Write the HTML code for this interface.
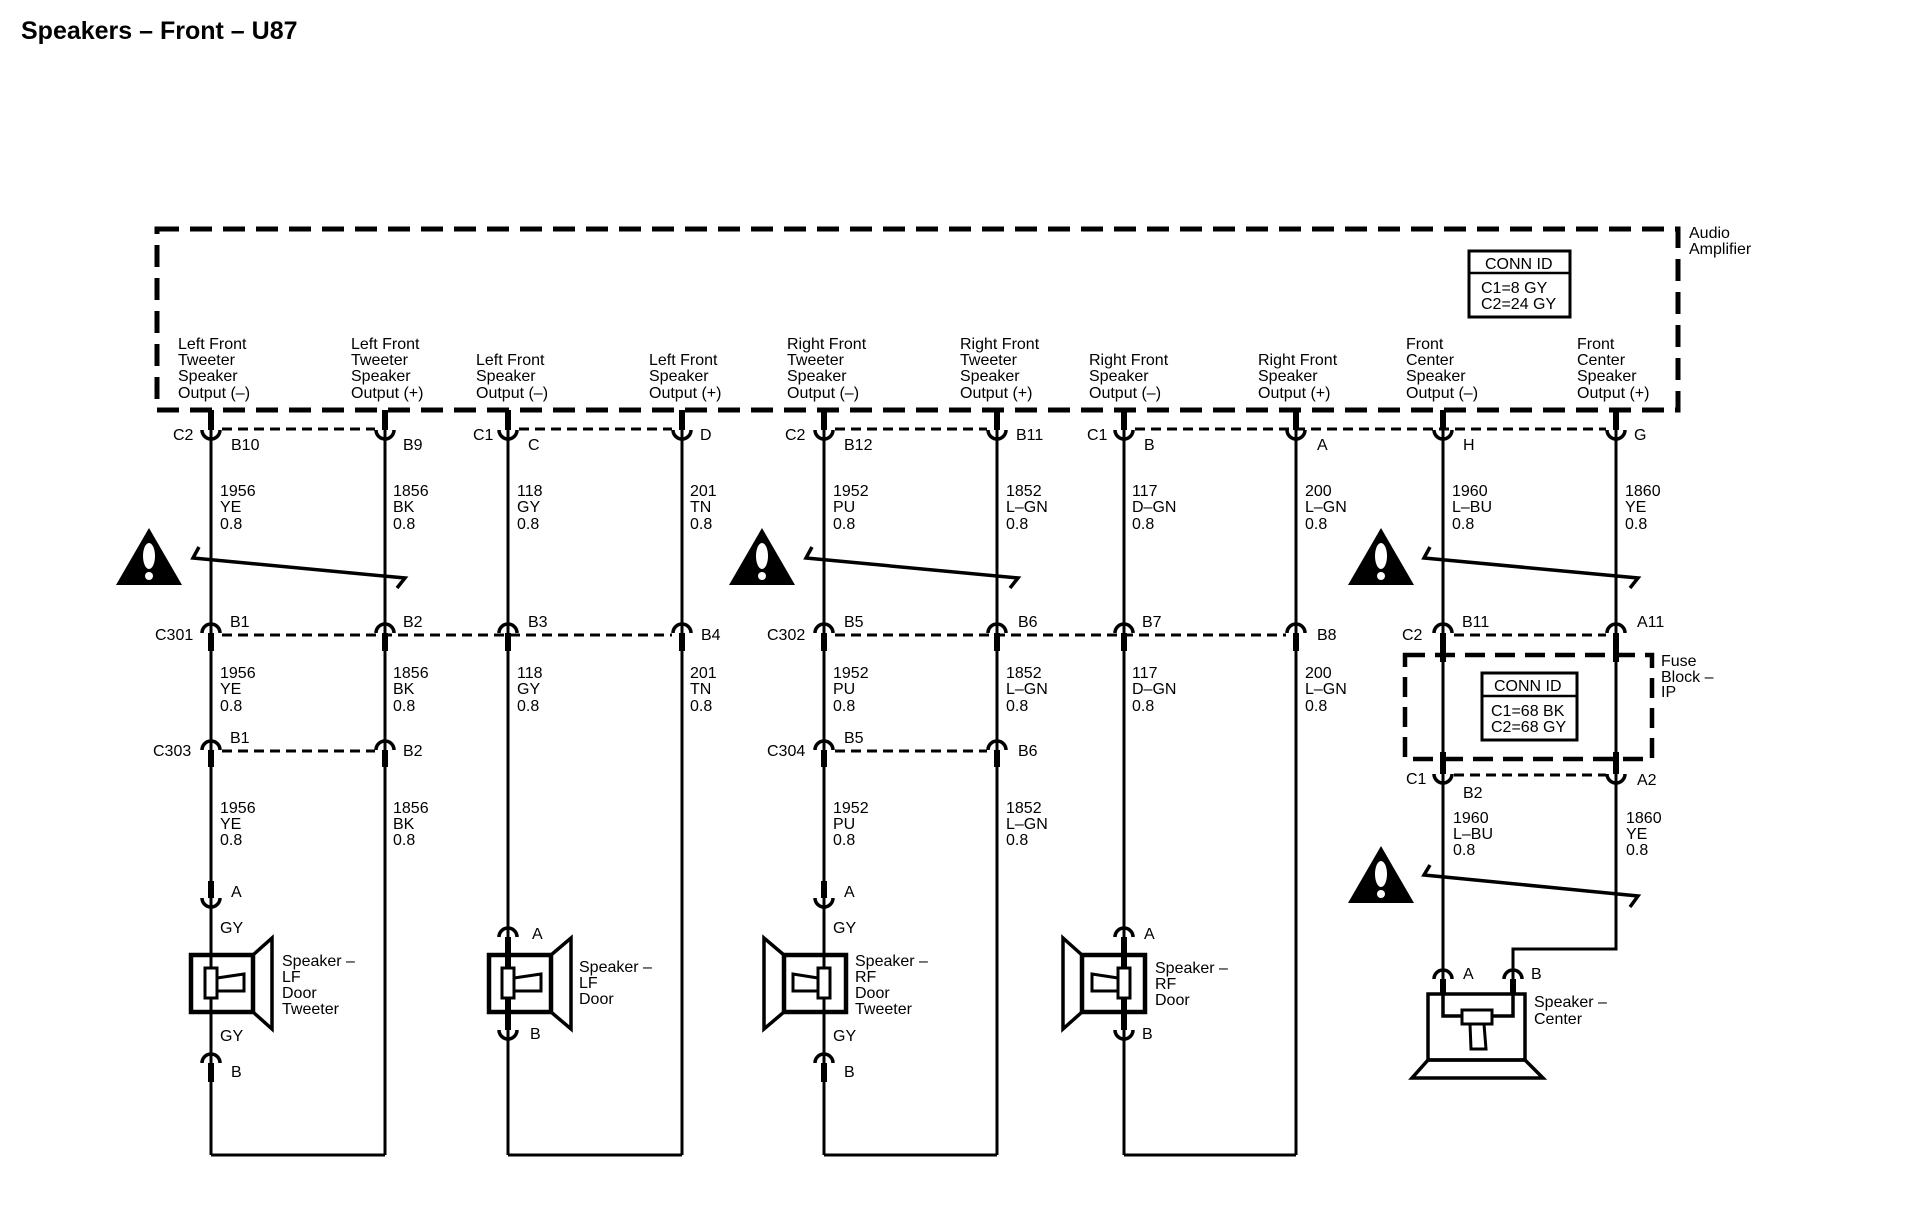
<!DOCTYPE html>
<html><head><meta charset="utf-8"><style>
html,body{margin:0;padding:0;background:#fff;overflow:hidden;}
svg{display:block;}
text{font-family:"Liberation Sans",Arial,sans-serif;font-size:16px;fill:#000;}
.ttl{font-weight:bold;font-size:25px;}
</style></head><body>
<svg width="1920" height="1216" viewBox="0 0 1920 1216" xmlns="http://www.w3.org/2000/svg">
<defs>
<path id="U" d="M-9,0 A9,9 0 0 0 9,0" fill="none" stroke="#000" stroke-width="3.5"/>
<path id="N" d="M-9,0 A9,9 0 0 1 9,0" fill="none" stroke="#000" stroke-width="3.5"/>
<g id="warn"><polygon points="0,0 -33,57 33,57" fill="#000"/><ellipse cx="0" cy="28" rx="6" ry="13" fill="#fff"/><circle cx="0" cy="48" r="4" fill="#fff"/></g>
</defs>
<g>
<text class="ttl" x="21" y="39">Speakers – Front – U87</text>

<rect x="157" y="229" width="1521" height="181" fill="none" stroke="#000" stroke-width="5" stroke-dasharray="22,11"/>
<text x="1689" y="238">Audio</text><text x="1689" y="254">Amplifier</text>
<rect x="1469" y="251" width="101" height="66" fill="none" stroke="#000" stroke-width="3"/>
<line x1="1469" y1="273" x2="1570" y2="273" stroke="#000" stroke-width="2.5"/>
<text x="1485" y="269">CONN ID</text>
<text x="1481" y="293">C1=8 GY</text><text x="1481" y="309">C2=24 GY</text>

<g>
<text x="178" y="349">Left Front</text><text x="178" y="365">Tweeter</text><text x="178" y="381">Speaker</text><text x="178" y="398">Output (–)</text>
<text x="351" y="349">Left Front</text><text x="351" y="365">Tweeter</text><text x="351" y="381">Speaker</text><text x="351" y="398">Output (+)</text>
<text x="476" y="365">Left Front</text><text x="476" y="381">Speaker</text><text x="476" y="398">Output (–)</text>
<text x="649" y="365">Left Front</text><text x="649" y="381">Speaker</text><text x="649" y="398">Output (+)</text>
<text x="787" y="349">Right Front</text><text x="787" y="365">Tweeter</text><text x="787" y="381">Speaker</text><text x="787" y="398">Output (–)</text>
<text x="960" y="349">Right Front</text><text x="960" y="365">Tweeter</text><text x="960" y="381">Speaker</text><text x="960" y="398">Output (+)</text>
<text x="1089" y="365">Right Front</text><text x="1089" y="381">Speaker</text><text x="1089" y="398">Output (–)</text>
<text x="1258" y="365">Right Front</text><text x="1258" y="381">Speaker</text><text x="1258" y="398">Output (+)</text>
<text x="1406" y="349">Front</text><text x="1406" y="365">Center</text><text x="1406" y="381">Speaker</text><text x="1406" y="398">Output (–)</text>
<text x="1577" y="349">Front</text><text x="1577" y="365">Center</text><text x="1577" y="381">Speaker</text><text x="1577" y="398">Output (+)</text>
</g>

<g stroke="#000" stroke-width="3" fill="none">
<line x1="211" y1="410" x2="211" y2="1155"/>
<line x1="385" y1="410" x2="385" y2="1155"/>
<line x1="508" y1="410" x2="508" y2="1155"/>
<line x1="682" y1="410" x2="682" y2="1155"/>
<line x1="824" y1="410" x2="824" y2="1155"/>
<line x1="997" y1="410" x2="997" y2="1155"/>
<line x1="1124" y1="410" x2="1124" y2="1155"/>
<line x1="1296" y1="410" x2="1296" y2="1155"/>
<line x1="1443" y1="410" x2="1443" y2="995"/>
<polyline points="1616,410 1616,949 1513,949 1513,995"/>
<polyline points="211,1155 385,1155"/>
<polyline points="508,1155 682,1155"/>
<polyline points="824,1155 997,1155"/>
<polyline points="1124,1155 1296,1155"/>
</g>

<g stroke="#000" stroke-width="3" stroke-dasharray="10,6">
<line x1="222" y1="429" x2="375" y2="429"/>
<line x1="519" y1="429" x2="672" y2="429"/>
<line x1="835" y1="429" x2="987" y2="429"/>
<line x1="1135" y1="429" x2="1606" y2="429"/>
<line x1="222" y1="635" x2="672" y2="635"/>
<line x1="835" y1="635" x2="1286" y2="635"/>
<line x1="1454" y1="635" x2="1606" y2="635"/>
<line x1="222" y1="751" x2="375" y2="751"/>
<line x1="835" y1="751" x2="987" y2="751"/>
<line x1="1454" y1="775" x2="1606" y2="775"/>
</g>
<rect x="1405" y="655" width="247" height="104" fill="none" stroke="#000" stroke-width="4.5" stroke-dasharray="20,10"/>
<text x="1661" y="666">Fuse</text><text x="1661" y="682">Block –</text><text x="1661" y="697">IP</text>
<rect x="1482" y="673" width="95" height="67" fill="#fff" stroke="#000" stroke-width="3"/>
<line x1="1482" y1="696" x2="1577" y2="696" stroke="#000" stroke-width="2.5"/>
<text x="1494" y="691">CONN ID</text>
<text x="1491" y="716">C1=68 BK</text><text x="1491" y="732">C2=68 GY</text>

<g stroke="#000" stroke-width="6">
<line x1="211" y1="410" x2="211" y2="430"/><line x1="385" y1="410" x2="385" y2="430"/>
<line x1="508" y1="410" x2="508" y2="430"/><line x1="682" y1="410" x2="682" y2="430"/>
<line x1="824" y1="410" x2="824" y2="430"/><line x1="997" y1="410" x2="997" y2="430"/>
<line x1="1124" y1="410" x2="1124" y2="430"/><line x1="1296" y1="410" x2="1296" y2="430"/>
<line x1="1443" y1="410" x2="1443" y2="430"/><line x1="1616" y1="410" x2="1616" y2="430"/>
<line x1="211" y1="633" x2="211" y2="651"/><line x1="385" y1="633" x2="385" y2="651"/>
<line x1="508" y1="633" x2="508" y2="651"/><line x1="682" y1="633" x2="682" y2="651"/>
<line x1="824" y1="633" x2="824" y2="651"/><line x1="997" y1="633" x2="997" y2="651"/>
<line x1="1124" y1="633" x2="1124" y2="651"/><line x1="1296" y1="633" x2="1296" y2="651"/>
<line x1="1443" y1="633" x2="1443" y2="662"/><line x1="1616" y1="633" x2="1616" y2="662"/>
<line x1="211" y1="750" x2="211" y2="767"/><line x1="385" y1="750" x2="385" y2="767"/>
<line x1="824" y1="750" x2="824" y2="767"/><line x1="997" y1="750" x2="997" y2="767"/>
<line x1="1443" y1="752" x2="1443" y2="774"/><line x1="1616" y1="752" x2="1616" y2="774"/>
<line x1="211" y1="881" x2="211" y2="898"/><line x1="824" y1="881" x2="824" y2="898"/>
<line x1="211" y1="1063" x2="211" y2="1082"/><line x1="824" y1="1063" x2="824" y2="1082"/>
<line x1="1443" y1="979" x2="1443" y2="995"/><line x1="1513" y1="979" x2="1513" y2="995"/>
</g>
<g>
<use href="#U" x="211" y="430"/><use href="#U" x="385" y="430"/><use href="#U" x="508" y="430"/><use href="#U" x="682" y="430"/>
<use href="#U" x="824" y="430"/><use href="#U" x="997" y="430"/><use href="#U" x="1124" y="430"/><use href="#U" x="1296" y="430"/>
<use href="#U" x="1443" y="430"/><use href="#U" x="1616" y="430"/>
<use href="#N" x="211" y="633"/><use href="#N" x="385" y="633"/><use href="#N" x="508" y="633"/><use href="#N" x="682" y="633"/>
<use href="#N" x="824" y="633"/><use href="#N" x="997" y="633"/><use href="#N" x="1124" y="633"/><use href="#N" x="1296" y="633"/>
<use href="#N" x="1443" y="633"/><use href="#N" x="1616" y="633"/>
<use href="#N" x="211" y="750"/><use href="#N" x="385" y="750"/><use href="#N" x="824" y="750"/><use href="#N" x="997" y="750"/>
<use href="#U" x="1443" y="774"/><use href="#U" x="1616" y="774"/>
<use href="#U" x="211" y="898"/><use href="#U" x="824" y="898"/>
<use href="#N" x="211" y="1063"/><use href="#N" x="824" y="1063"/>
<use href="#N" x="508" y="937"/><use href="#N" x="1124" y="937"/>
<use href="#U" x="508" y="1030"/><use href="#U" x="1124" y="1030"/>
<use href="#N" x="1443" y="979"/><use href="#N" x="1513" y="979"/>
</g>

<g>
<text x="173" y="440">C2</text><text x="231" y="450">B10</text><text x="403" y="450">B9</text>
<text x="473" y="440">C1</text><text x="528" y="450">C</text><text x="700" y="440">D</text>
<text x="785" y="440">C2</text><text x="844" y="450">B12</text><text x="1016" y="440">B11</text>
<text x="1087" y="440">C1</text><text x="1144" y="450">B</text><text x="1317" y="450">A</text>
<text x="1463" y="450">H</text><text x="1634" y="440">G</text>
<text x="155" y="640">C301</text><text x="230" y="627">B1</text><text x="403" y="627">B2</text><text x="528" y="627">B3</text><text x="701" y="640">B4</text>
<text x="767" y="640">C302</text><text x="844" y="627">B5</text><text x="1018" y="627">B6</text><text x="1142" y="627">B7</text><text x="1317" y="640">B8</text>
<text x="1402" y="640">C2</text><text x="1462" y="627">B11</text><text x="1637" y="627">A11</text>
<text x="153" y="756">C303</text><text x="230" y="743">B1</text><text x="403" y="756">B2</text>
<text x="767" y="756">C304</text><text x="844" y="743">B5</text><text x="1018" y="756">B6</text>
<text x="1406" y="784">C1</text><text x="1463" y="798">B2</text><text x="1637" y="785">A2</text>
</g>

<g>
<text x="220" y="496">1956</text><text x="220" y="512">YE</text><text x="220" y="529">0.8</text>
<text x="393" y="496">1856</text><text x="393" y="512">BK</text><text x="393" y="529">0.8</text>
<text x="517" y="496">118</text><text x="517" y="512">GY</text><text x="517" y="529">0.8</text>
<text x="690" y="496">201</text><text x="690" y="512">TN</text><text x="690" y="529">0.8</text>
<text x="833" y="496">1952</text><text x="833" y="512">PU</text><text x="833" y="529">0.8</text>
<text x="1006" y="496">1852</text><text x="1006" y="512">L–GN</text><text x="1006" y="529">0.8</text>
<text x="1132" y="496">117</text><text x="1132" y="512">D–GN</text><text x="1132" y="529">0.8</text>
<text x="1305" y="496">200</text><text x="1305" y="512">L–GN</text><text x="1305" y="529">0.8</text>
<text x="1452" y="496">1960</text><text x="1452" y="512">L–BU</text><text x="1452" y="529">0.8</text>
<text x="1625" y="496">1860</text><text x="1625" y="512">YE</text><text x="1625" y="529">0.8</text>

<text x="220" y="678">1956</text><text x="220" y="694">YE</text><text x="220" y="711">0.8</text>
<text x="393" y="678">1856</text><text x="393" y="694">BK</text><text x="393" y="711">0.8</text>
<text x="517" y="678">118</text><text x="517" y="694">GY</text><text x="517" y="711">0.8</text>
<text x="690" y="678">201</text><text x="690" y="694">TN</text><text x="690" y="711">0.8</text>
<text x="833" y="678">1952</text><text x="833" y="694">PU</text><text x="833" y="711">0.8</text>
<text x="1006" y="678">1852</text><text x="1006" y="694">L–GN</text><text x="1006" y="711">0.8</text>
<text x="1132" y="678">117</text><text x="1132" y="694">D–GN</text><text x="1132" y="711">0.8</text>
<text x="1305" y="678">200</text><text x="1305" y="694">L–GN</text><text x="1305" y="711">0.8</text>

<text x="220" y="813">1956</text><text x="220" y="829">YE</text><text x="220" y="845">0.8</text>
<text x="393" y="813">1856</text><text x="393" y="829">BK</text><text x="393" y="845">0.8</text>
<text x="833" y="813">1952</text><text x="833" y="829">PU</text><text x="833" y="845">0.8</text>
<text x="1006" y="813">1852</text><text x="1006" y="829">L–GN</text><text x="1006" y="845">0.8</text>
<text x="1453" y="823">1960</text><text x="1453" y="839">L–BU</text><text x="1453" y="855">0.8</text>
<text x="1626" y="823">1860</text><text x="1626" y="839">YE</text><text x="1626" y="855">0.8</text>
</g>

<use href="#warn" x="149" y="528"/><use href="#warn" x="762" y="528"/><use href="#warn" x="1381" y="528"/><use href="#warn" x="1381" y="846"/>
<g stroke="#000" stroke-width="3.5" fill="none">
<polyline points="199,547 193,558 405,578 397,588"/>
<polyline points="812,547 806,558 1018,578 1010,588"/>
<polyline points="1430,547 1424,558 1638,578 1630,588"/>
<polyline points="1430,865 1424,875 1638,896 1630,907"/>
</g>

<g stroke="#000" fill="none">
<rect x="191" y="955" width="62" height="57" stroke-width="4.5"/>
<polygon points="253,955 272,938 272,1029 253,1012" stroke-width="3.5"/>
<rect x="205" y="968" width="12" height="30" fill="#fff" stroke-width="3"/>
<polygon points="217,978 244,974 244,991 217,991" stroke-width="3"/>
</g>
<text x="220" y="933">GY</text><text x="220" y="1041">GY</text><text x="231" y="897">A</text><text x="231" y="1077">B</text>
<text x="282" y="966">Speaker –</text><text x="282" y="982">LF</text><text x="282" y="998">Door</text><text x="282" y="1014">Tweeter</text>

<g stroke="#000" fill="none">
<rect x="489" y="955" width="62" height="57" stroke-width="4.5"/>
<polygon points="551,955 571,938 571,1029 551,1012" stroke-width="3.5"/>
<line x1="508" y1="937" x2="508" y2="1030" stroke-width="6"/>
<rect x="502" y="968" width="12" height="30" fill="#fff" stroke-width="3"/>
<polygon points="514,978 541,974 541,991 514,991" stroke-width="3"/>
</g>
<text x="532" y="939">A</text><text x="530" y="1039">B</text>
<text x="579" y="972">Speaker –</text><text x="579" y="988">LF</text><text x="579" y="1004">Door</text>

<g stroke="#000" fill="none">
<rect x="784" y="955" width="62" height="57" stroke-width="4.5"/>
<polygon points="784,955 764,938 764,1029 784,1012" stroke-width="3.5"/>
<rect x="818" y="968" width="12" height="30" fill="#fff" stroke-width="3"/>
<polygon points="818,978 793,974 793,991 818,991" stroke-width="3"/>
</g>
<text x="833" y="933">GY</text><text x="833" y="1041">GY</text><text x="844" y="897">A</text><text x="844" y="1077">B</text>
<text x="855" y="966">Speaker –</text><text x="855" y="982">RF</text><text x="855" y="998">Door</text><text x="855" y="1014">Tweeter</text>

<g stroke="#000" fill="none">
<rect x="1082" y="955" width="63" height="57" stroke-width="4.5"/>
<polygon points="1082,955 1063,938 1063,1029 1082,1012" stroke-width="3.5"/>
<line x1="1124" y1="937" x2="1124" y2="1030" stroke-width="6"/>
<rect x="1118" y="968" width="12" height="30" fill="#fff" stroke-width="3"/>
<polygon points="1118,978 1092,974 1092,991 1118,991" stroke-width="3"/>
</g>
<text x="1144" y="939">A</text><text x="1142" y="1039">B</text>
<text x="1155" y="973">Speaker –</text><text x="1155" y="989">RF</text><text x="1155" y="1005">Door</text>

<g stroke="#000" fill="none">
<rect x="1428" y="994" width="97" height="66" stroke-width="3.5"/>
<polygon points="1428,1060 1525,1060 1543,1078 1412,1078" stroke-width="3.5"/>
<polyline points="1443,994 1443,1016 1513,1016 1513,994" stroke-width="3.5"/>
<rect x="1462" y="1010" width="30" height="14" fill="#fff" stroke-width="3"/>
<polygon points="1470,1024 1484,1024 1486,1049 1471,1049" fill="#fff" stroke-width="3"/>
</g>
<text x="1463" y="979">A</text><text x="1531" y="979">B</text>
<text x="1534" y="1007">Speaker –</text><text x="1534" y="1024">Center</text>
</g>
</svg>
</body></html>
